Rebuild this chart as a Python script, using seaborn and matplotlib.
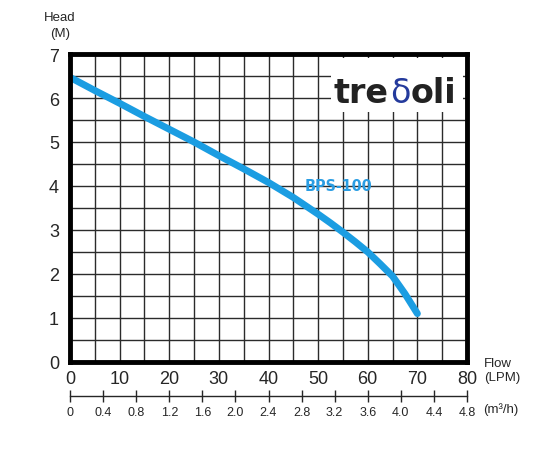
import matplotlib
matplotlib.use("Agg")
import matplotlib.pyplot as plt
import matplotlib.patches as mpatches
import numpy as np
import pandas as pd
import seaborn as sns

# pump curve
flow_lpm = [0, 5, 10, 15, 20, 25, 30, 35, 40, 45, 50, 52.5, 55, 57.5, 60, 62.5, 65, 67.5, 70]
head_m = [6.47, 6.17, 5.88, 5.58, 5.29, 5.0, 4.69, 4.39, 4.08, 3.74, 3.36, 3.16, 2.95,
          2.73, 2.5, 2.23, 1.95, 1.55, 1.1]
model = "BPS-100"

flow_ticks = [0, 10, 20, 30, 40, 50, 60, 70, 80]
head_ticks = [0, 1, 2, 3, 4, 5, 6, 7]
m3h_ticks = [0, 0.4, 0.8, 1.2, 1.6, 2.0, 2.4, 2.8, 3.2, 3.6, 4.0, 4.4, 4.8]
m3h_labels = ["0", "0.4", "0.8", "1.2", "1.6", "2.0", "2.4", "2.8", "3.2", "3.6", "4.0", "4.4", "4.8"]

sns.set_style("white")
plt.rcParams['font.family'] = ['Liberation Sans', 'DejaVu Sans']

df = pd.DataFrame({"flow": flow_lpm, "head": head_m})

fig = plt.figure(figsize=(5.34, 4.56), dpi=100)
ax = fig.add_axes([70 / 534, 1 - 363 / 456, 397 / 534, 308 / 456])

sns.lineplot(data=df, x="flow", y="head", ax=ax, color="#1b9de2", linewidth=5.0,
             solid_capstyle="round", solid_joinstyle="round", zorder=5)

ax.set_xlim(0, 80)
ax.set_ylim(0, 7)
ax.set_xticks(np.arange(0, 81, 5), minor=True)
ax.set_yticks(np.arange(0, 7.01, 0.5), minor=True)
ax.set_xticks(flow_ticks)
ax.set_yticks(head_ticks)
ax.grid(True, which="both", color="#2b2b2b", linewidth=1.0)
ax.tick_params(which="both", length=0, labelsize=13)
ax.tick_params(axis="x", pad=6)
ax.tick_params(axis="y", pad=8)
ax.set_xlabel("")
ax.set_ylabel("")
for s in ax.spines.values():
    s.set_linewidth(3.5)
    s.set_color("black")
    s.set_zorder(6)

# second flow scale in m3/h
sec = ax.secondary_xaxis(-34 / 308, functions=(lambda x: x * 0.06, lambda x: x / 0.06))
sec.set_xticks(m3h_ticks)
sec.set_xticklabels(m3h_labels)
sec.tick_params(direction="inout", length=9, width=1, labelsize=9, pad=3)
sec.spines["bottom"].set_linewidth(1)

fig.text(60 / 534, 1 - 26 / 456, "Head\n(M)", ha="center", va="center", fontsize=9.5,
         linespacing=1.35)
fig.text(484 / 534, 1 - 371 / 456, "Flow\n(LPM)", ha="left", va="center", fontsize=9.5,
         linespacing=1.3)
fig.text(483 / 534, 1 - 410 / 456, "(m³/h)", ha="left", va="center", fontsize=9.5)

ax.text(47.2, 4.02, model, color="#2a9de3", fontsize=11.5, fontweight="bold",
        family="DejaVu Sans", fontstretch="condensed", va="center", ha="left", zorder=7)

# logo
ax.add_patch(mpatches.Rectangle((52.6, 5.68), 26.6, 1.22, facecolor="white",
                                edgecolor="none", zorder=4))
ax.text(64.2, 5.92, "tre", color="#222222", fontsize=24, family="DejaVu Sans",
        fontweight="bold", ha="right", va="baseline", zorder=7)
ax.text(66.5, 5.92, "δ", color="#243a9c", fontsize=24, family="DejaVu Sans",
        ha="center", va="baseline", zorder=7)
ax.text(68.6, 5.92, "oli", color="#222222", fontsize=24, family="DejaVu Sans",
        fontweight="bold", ha="left", va="baseline", zorder=7)

fig.savefig("out.png", dpi=100)
